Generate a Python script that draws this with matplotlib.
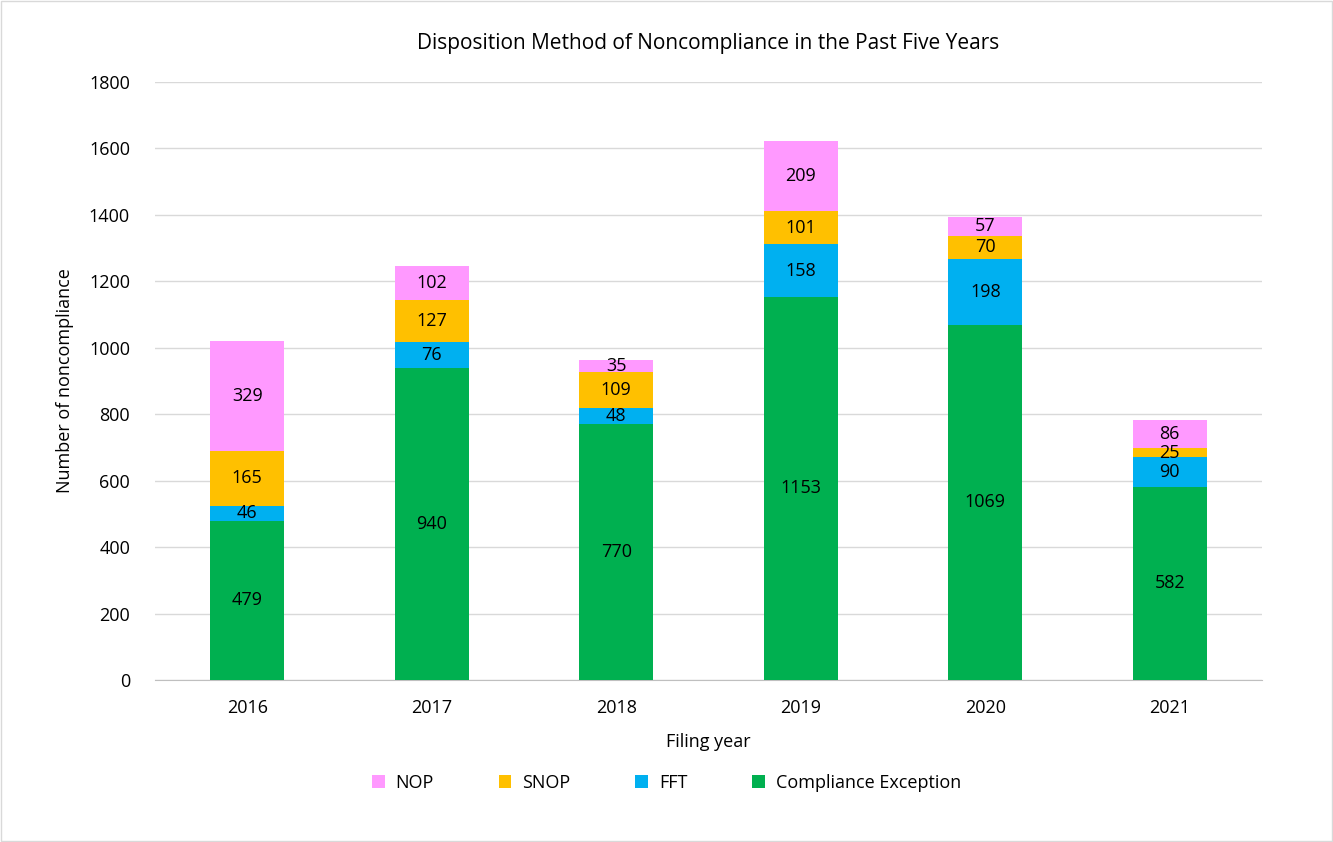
import matplotlib
matplotlib.use("Agg")
import matplotlib.pyplot as plt
import numpy as np
from matplotlib.patches import Rectangle

years = ["2016", "2017", "2018", "2019", "2020", "2021"]
compliance_exception = [479, 940, 770, 1153, 1069, 582]
fft = [46, 76, 48, 158, 198, 90]
snop = [165, 127, 109, 101, 70, 25]
nop = [329, 102, 35, 209, 57, 86]

series = [
    ("Compliance Exception", compliance_exception, "#00B050"),
    ("FFT", fft, "#00B0F0"),
    ("SNOP", snop, "#FFC000"),
    ("NOP", nop, "#FF99FF"),
]

plt.rcParams['font.family'] = ['Open Sans', 'DejaVu Sans']

fig = plt.figure(figsize=(13.33, 8.42), dpi=100)
ax = fig.add_axes([0.1163, 0.1924, 0.8304, 0.7102])

x = np.arange(len(years))
bottom = np.zeros(len(years))
handles = {}
for name, vals, color in series:
    vals = np.array(vals, dtype=float)
    bars = ax.bar(x, vals, 0.40, bottom=bottom, color=color, label=name, zorder=3)
    handles[name] = bars
    for xi, b, v in zip(x, bottom, vals):
        ax.text(xi, b + v / 2, f"{int(v)}", ha="center", va="center", fontsize=13, color="#000000", zorder=4)
    bottom += vals

ax.set_xlim(-0.5, len(years) - 0.5)
ax.set_ylim(0, 1800)
ax.set_yticks(np.arange(0, 1801, 200))
ax.set_xticks(x)
ax.set_xticklabels(years)
ax.tick_params(axis="both", length=0, labelsize=13, colors="#000000")
ax.tick_params(axis="y", pad=18)
ax.tick_params(axis="x", pad=14)
ax.grid(axis="y", color="#D9D9D9", linewidth=1, zorder=0)
for s in ["top", "right", "left"]:
    ax.spines[s].set_visible(False)
ax.spines["bottom"].set_color("#BFBFBF")
ax.set_xlabel("Filing year", fontsize=13, labelpad=11)
ax.set_ylabel("Number of noncompliance", fontsize=13, labelpad=11)
ax.set_title("Disposition Method of Noncompliance in the Past Five Years", fontsize=15, pad=24, color="#000000")

order = ["NOP", "SNOP", "FFT", "Compliance Exception"]
fig.legend([handles[n] for n in order], order, loc="center", bbox_to_anchor=(0.5, 1 - 783 / 842),
           ncol=4, frameon=False, fontsize=13, handlelength=0.7, handleheight=0.7,
           columnspacing=3.6, handletextpad=0.6)

fig.add_artist(Rectangle((0.001, 0.001), 0.998, 0.998, transform=fig.transFigure,
                         fill=False, edgecolor="#D9D9D9", linewidth=1))

fig.savefig("out.png", dpi=100)
